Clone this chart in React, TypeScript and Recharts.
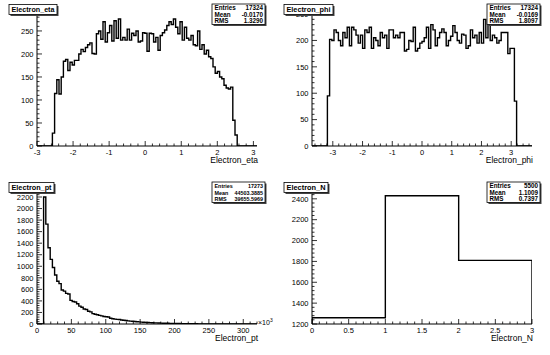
import React from 'react';
import { LineChart, Line, XAxis, YAxis } from 'recharts';

// ---- histogram contents ----
const etaLow = -3;
const etaBinWidth = 0.061;
const etaFirstBin = 7;
const etaCounts = [
  28, 114, 144, 113, 150, 184, 188, 164, 182, 176, 186, 186, 200, 210, 205, 214, 220, 224, 201, 200,
  244, 250, 232, 270, 226, 246, 262, 228, 272, 234, 276, 230, 236, 230, 254, 230, 245, 240, 250, 226,
  228, 246,
  245, 206, 245, 244, 226, 236, 208, 240, 246, 252, 262, 270, 264, 276, 258, 244, 270, 230, 258, 234,
  230, 240, 220, 218, 250, 210, 220, 200, 208, 194, 190, 172, 158, 162, 150, 146, 132, 126, 124, 128,
  56, 24,
];

const phiLow = -3.7;
const phiBinWidth = 0.074;
const phiFirstBin = 7;
const phiCounts = [
  95, 202, 200, 220, 215, 200, 190, 215, 205, 225, 190, 225, 220, 210, 195, 210, 185, 220, 215, 225,
  185, 205, 200, 190, 215, 205, 210, 185, 220, 220, 205, 210, 205, 215, 215, 180, 183, 200, 198, 225,
  180, 185, 195, 198, 205, 225, 185, 230, 220, 190, 205, 215, 222, 215, 190, 200, 208, 228, 215, 200,
  195, 212, 210, 185, 190, 220, 205, 210, 195, 215, 195, 240, 205, 232, 200, 210, 205, 195, 200, 215,
  215, 215, 175, 185, 185, 85,
];

const ptLow = 0;
const ptBinWidth = 3.2;
const ptFirstBin = 3;
const ptCounts = [
  2200, 1730, 1320, 1120, 980, 850, 740, 700, 590, 570, 530, 520, 410, 390, 380, 350, 310, 290, 260, 250,
  220, 210, 180, 170, 160, 150, 140, 130, 125, 120, 100, 90, 85, 80, 78, 70, 66, 60, 55, 50,
  48, 44, 40, 37, 33, 30, 28, 26, 24, 22, 20, 19, 17, 15, 14, 13, 12, 11, 10, 9,
  8, 8, 7, 6, 6, 5, 5, 4, 4, 4, 3, 3, 3, 2, 2, 2, 2, 1, 1, 1, 1, 1, 1,
];

const nLow = 0;
const nBinWidth = 1;
const nFirstBin = 0;
const nCounts = [1260, 2430, 1810];

// axis labels
const etaXTicks = [-3, -2, -1, 0, 1, 2, 3];
const etaYTicks = [0, 50, 100, 150, 200, 250];
const phiXTicks = [-3, -2, -1, 0, 1, 2, 3];
const phiYTicks = [0, 50, 100, 150, 200, 250];
const ptXTicks = [0, 50, 100, 150, 200, 250, 300];
const ptYTicks = [0, 200, 400, 600, 800, 1000, 1200, 1400, 1600, 1800, 2000, 2200];
const nXTicks = [0, 0.5, 1, 1.5, 2, 2.5, 3];
const nYTicks = [1200, 1400, 1600, 1800, 2000, 2200, 2400];

const etaStats = [['Entries', '17324'], ['Mean', '-0.0170'], ['RMS', '1.3290']];
const phiStats = [['Entries', '17324'], ['Mean', '-0.0169'], ['RMS', '1.8097']];
const ptStats = [['Entries', '17273'], ['Mean', '44503.3885'], ['RMS', '39655.5969']];
const nStats = [['Entries', '5500'], ['Mean', '1.1009'], ['RMS', '0.7397']];

const FONT = '"Liberation Sans", Arial, Helvetica, sans-serif';
const M = 4; // tickMargin used to find the axis line from the label position
const W = 275;
const H = 178;

type Pt = { x: number; y: number };

function histPoints(low: number, width: number, first: number, counts: number[], xMin: number, xMax: number, floor: number) {
  const pts: Pt[] = [{ x: xMin, y: floor }];
  counts.forEach((c, i) => pts.push({ x: low + (first + i) * width, y: c }));
  const end = low + (first + counts.length) * width;
  pts.push({ x: end, y: floor });
  if (end < xMax) pts.push({ x: xMax, y: floor });
  return pts;
}

function tickList(d: number[], step: number) {
  const out: number[] = [];
  const start = Math.ceil(d[0] / step - 1e-9);
  for (let k = start; k * step <= d[1] + 1e-9; k++) out.push(Math.round(k * step * 1e6) / 1e6);
  return out;
}

function makeTick(side: string, majors: number[], labels: boolean) {
  return (props: any) => {
    const { x, y, payload } = props;
    const v = payload.value as number;
    const major = majors.some((m) => Math.abs(m - v) < 1e-6);
    const len = major ? 5 : 2.5;
    const txt = { fontSize: 7.5, fontFamily: FONT, fill: '#000' };
    if (side === 'bottom') {
      const y0 = y - M;
      return (
        <g>
          <line x1={x} y1={y0} x2={x} y2={y0 - len} stroke="#000" strokeWidth={0.8} />
          {major && labels && <text x={x} y={y0 + 8.5} textAnchor="middle" {...txt}>{String(v)}</text>}
        </g>
      );
    }
    if (side === 'top') {
      const y0 = y + M;
      return <line x1={x} y1={y0} x2={x} y2={y0 + len} stroke="#000" strokeWidth={0.8} />;
    }
    if (side === 'left') {
      const x0 = x + M;
      return (
        <g>
          <line x1={x0} y1={y} x2={x0 + len} y2={y} stroke="#000" strokeWidth={0.8} />
          {major && labels && <text x={x0 - 3.5} y={y + 2.7} textAnchor="end" {...txt}>{String(v)}</text>}
        </g>
      );
    }
    const x0 = x - M;
    return <line x1={x0} y1={y} x2={x0 - len} y2={y} stroke="#000" strokeWidth={0.8} />;
  };
}

type PanelProps = {
  left: number;
  top: number;
  data: Pt[];
  xDomain: number[];
  yDomain: number[];
  xMajor: number[];
  xStep: number;
  yMajor: number[];
  yStep: number;
  title: string;
  titleW: number;
  stats: string[][];
  statsFont: number;
  xTitle: string;
  exp?: boolean;
};

function Panel(p: PanelProps) {
  const xt = tickList(p.xDomain, p.xStep);
  const yt = tickList(p.yDomain, p.yStep);
  const axisCommon = { type: 'number' as const, allowDataOverflow: true, interval: 0 as const, tickSize: 0, tickMargin: M, axisLine: { stroke: '#000', strokeWidth: 1 }, tickLine: false };
  return (
    <div style={{ position: 'absolute', left: p.left, top: p.top, width: W, height: H }}>
      <LineChart width={W} height={H} data={p.data} margin={{ top: 13, right: 18, bottom: 0, left: 0 }}>
        <XAxis xAxisId="b" dataKey="x" orientation="bottom" height={32} domain={p.xDomain} ticks={xt} tick={makeTick('bottom', p.xMajor, true)} {...axisCommon} />
        <XAxis xAxisId="t" dataKey="x" orientation="top" height={0} domain={p.xDomain} ticks={xt} tick={makeTick('top', p.xMajor, false)} {...axisCommon} />
        <YAxis yAxisId="l" orientation="left" width={37} domain={p.yDomain} ticks={yt} tick={makeTick('left', p.yMajor, true)} {...axisCommon} />
        <YAxis yAxisId="r" orientation="right" width={0} domain={p.yDomain} ticks={yt} tick={makeTick('right', p.yMajor, false)} {...axisCommon} />
        <Line xAxisId="b" yAxisId="l" type="stepAfter" dataKey="y" stroke="#000" strokeWidth={1.4} dot={false} isAnimationActive={false} />
      </LineChart>
      <svg width={W} height={H} style={{ position: 'absolute', left: 0, top: 0, pointerEvents: 'none' }}>
        <rect x={10.5} y={6} width={p.titleW} height={10} fill="#444" />
        <rect x={9} y={4.5} width={p.titleW} height={10} fill="#fff" stroke="#000" strokeWidth={0.8} />
        <text x={9 + p.titleW / 2} y={12.3} textAnchor="middle" fontSize={8} fontWeight="bold" fontFamily={FONT} textLength={p.titleW - 5} lengthAdjust="spacingAndGlyphs">{p.title}</text>

        <rect x={213.5} y={5.5} width={53} height={20.5} fill="#444" />
        <rect x={212} y={4} width={53} height={20.5} fill="#fff" stroke="#000" strokeWidth={0.8} />
        {p.stats.map((s, i) => (
          <g key={s[0]}>
            <text x={214.5} y={10.2 + i * 6.6} fontSize={p.statsFont} fontWeight="bold" fontFamily={FONT}>{s[0]}</text>
            <text x={263} y={10.2 + i * 6.6} fontSize={p.statsFont} fontWeight="bold" fontFamily={FONT} textAnchor="end">{s[1]}</text>
          </g>
        ))}
        <text x={258} y={163} textAnchor="end" fontSize={8.5} fontFamily={FONT}>{p.xTitle}</text>
        {p.exp && (
          <text x={258} y={147} fontSize={7} fontFamily={FONT}>
            ×10<tspan dy={-3} fontSize={5}>3</tspan>
          </text>
        )}
      </svg>
    </div>
  );
}

export default function App() {
  const etaDomain = [-3, 3.1];
  const phiDomain = [-3.7, 3.7];
  const ptDomain = [0, 320];
  const nDomain = [0, 3];
  return (
    <div style={{ position: 'absolute', left: 0, top: 0, width: 550, height: 355, background: '#fff', overflow: 'hidden' }}>
      <Panel left={0} top={0} data={histPoints(etaLow, etaBinWidth, etaFirstBin, etaCounts, etaDomain[0], etaDomain[1], 0)}
        xDomain={etaDomain} yDomain={[0, 289]} xMajor={etaXTicks} xStep={0.2} yMajor={etaYTicks} yStep={10}
        title="Electron_eta" titleW={48} stats={etaStats} statsFont={6.3} xTitle="Electron_eta" />
      <Panel left={275} top={0} data={histPoints(phiLow, phiBinWidth, phiFirstBin, phiCounts, phiDomain[0], phiDomain[1], 0)}
        xDomain={phiDomain} yDomain={[0, 252]} xMajor={phiXTicks} xStep={0.2} yMajor={phiYTicks} yStep={10}
        title="Electron_phi" titleW={49} stats={phiStats} statsFont={6.3} xTitle="Electron_phi" />
      <Panel left={0} top={178} data={histPoints(ptLow, ptBinWidth, ptFirstBin, ptCounts, ptDomain[0], ptDomain[1], 0)}
        xDomain={ptDomain} yDomain={[0, 2304]} xMajor={ptXTicks} xStep={10} yMajor={ptYTicks} yStep={40}
        title="Electron_pt" titleW={45} stats={ptStats} statsFont={5.4} xTitle="Electron_pt" exp />
      <Panel left={275} top={178} data={histPoints(nLow, nBinWidth, nFirstBin, nCounts, nDomain[0], nDomain[1], 1200)}
        xDomain={nDomain} yDomain={[1200, 2475]} xMajor={nXTicks} xStep={0.1} yMajor={nYTicks} yStep={40}
        title="Electron_N" titleW={44} stats={nStats} statsFont={6.3} xTitle="Electron_N" />
    </div>
  );
}
